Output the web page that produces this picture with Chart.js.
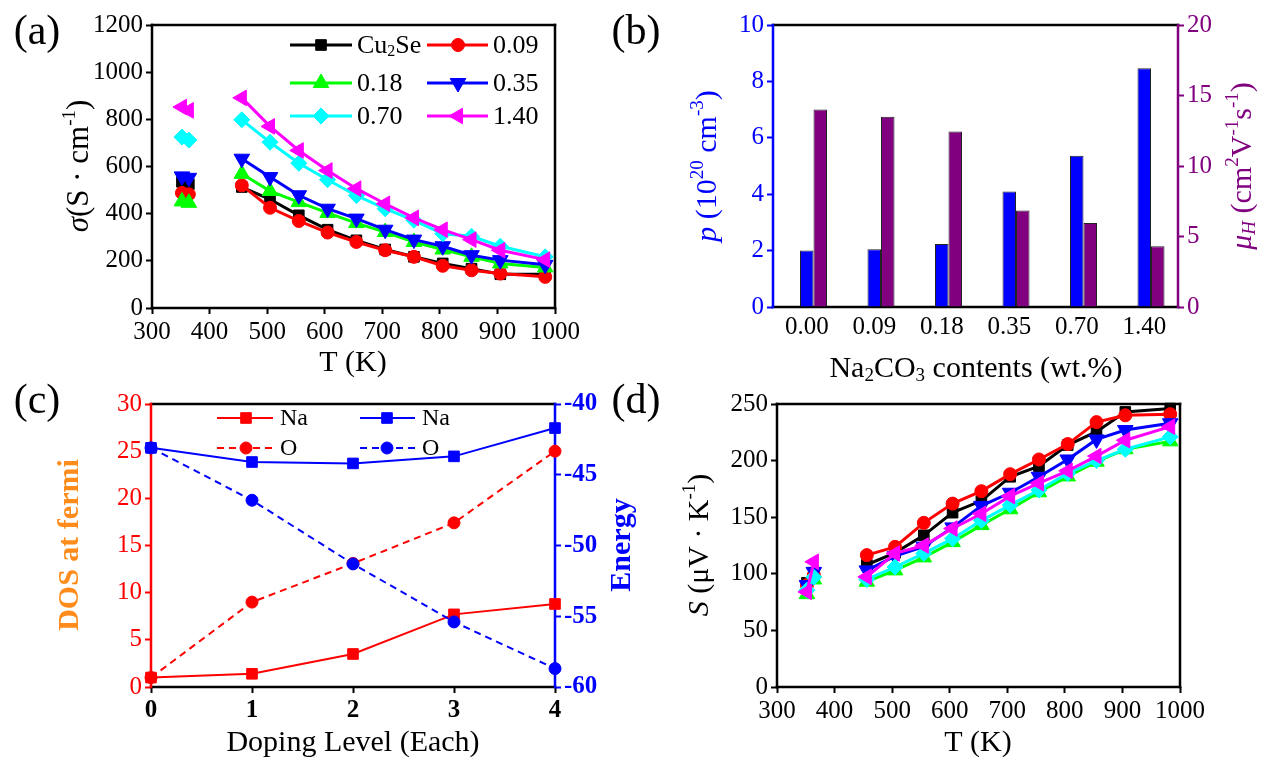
<!DOCTYPE html>
<html>
<head>
<meta charset="utf-8">
<script src="https://cdn.jsdelivr.net/npm/chart.js@4.4.1/dist/chart.umd.min.js"></script>
<style>
  body { margin: 0; background: #fff; }
  #lienzo { position: relative; width: 1270px; height: 764px; overflow: hidden; }
  canvas { position: absolute; }
</style>
</head>
<body>
<div id="lienzo">
  <canvas id="grafA" width="600" height="380" style="left:0;top:0"></canvas>
  <canvas id="grafB" width="670" height="392" style="left:600px;top:0"></canvas>
  <canvas id="grafC" width="650" height="384" style="left:0;top:380px"></canvas>
  <canvas id="grafD" width="670" height="384" style="left:600px;top:380px"></canvas>
</div>
<script>
// datos
const temperaturas = [352, 364, 456, 505, 555, 605, 655, 705, 755, 805, 855, 905, 983];
const muestras = ["Cu2Se", "0.09", "0.18", "0.35", "0.70", "1.40"];

const sigmaCu2Se = [535, 525, 513, 461, 393, 332, 287, 248, 217, 189, 167, 143, 143];
const sigma009 = [488, 482, 520, 425, 369, 320, 280, 245, 217, 179, 160, 146, 132];
const sigma018 = [452, 446, 569, 496, 449, 403, 360, 322, 280, 248, 217, 189, 172];
const sigma035 = [558, 552, 633, 555, 478, 421, 379, 332, 290, 262, 224, 203, 183];
const sigma070 = [725, 712, 798, 703, 614, 544, 477, 421, 372, 315, 304, 262, 217];
const sigma140 = [852, 838, 891, 770, 668, 583, 506, 442, 382, 332, 290, 245, 205];

const seebeckCu2Se = [92, 101, 108, 118.5, 134, 154, 164.5, 185.7, 195, 213.7, 225.5, 243, 246];
const seebeck009 = [90, 99, 116.5, 123.8, 145, 162, 173, 188, 201, 214.6, 234, 240, 241];
const seebeck018 = [82, 95, 93, 103, 114.5, 128, 143, 157, 172, 186, 199, 210, 217];
const seebeck035 = [90, 101.7, 103, 115.6, 124, 141, 160, 171.6, 185.7, 201, 218.7, 227, 233];
const seebeck070 = [85.5, 97, 95, 106, 118, 131, 147, 160.7, 174, 188.7, 200, 210, 221];
const seebeck140 = [84, 110.6, 97.3, 118, 125, 140, 153, 168.6, 180, 191, 204, 218, 230];

const contenidos = ["0.00", "0.09", "0.18", "0.35", "0.70", "1.40"];
const portadores = [2.0, 2.05, 2.23, 4.1, 5.36, 8.47];
const movilidad = [14.0, 13.5, 12.45, 6.85, 5.95, 4.3];

const niveles = [0, 1, 2, 3, 4];
const dosNa = [1.0, 1.4, 3.5, 7.7, 8.8];
const dosO = [1.0, 9.0, 13.1, 17.4, 25.0];
const energiaNa = [-43.1, -44.1, -44.2, -43.7, -41.7];
const energiaO = [-43.1, -46.8, -51.3, -55.4, -58.7];

const SERIF = "'Liberation Serif', 'Times New Roman', serif";
const TAM_TICK = 25;
Chart.defaults.font.family = SERIF;

const colores = ["#000000", "#ff0000", "#00ff00", "#0000ff", "#00ffff", "#ff00ff"];
const estilos = [
  { s: "rect", r: 7.5, rot: 0 },
  { s: "circle", r: 6.5, rot: 0 },
  { s: "triangle", r: 9, rot: 0 },
  { s: "triangle", r: 9, rot: 180 },
  { s: "rectRot", r: 8, rot: 0 },
  { s: "triangle", r: 9, rot: 270 }
];

function marcador(ctx, estilo, x, y, r, rot) {
  ctx.beginPath();
  if (estilo === "circle") {
    ctx.arc(x, y, r, 0, Math.PI * 2);
  } else if (estilo === "rect") {
    const s = r * Math.SQRT1_2;
    ctx.rect(x - s, y - s, 2 * s, 2 * s);
  } else if (estilo === "rectRot") {
    ctx.moveTo(x - r, y); ctx.lineTo(x, y - r); ctx.lineTo(x + r, y); ctx.lineTo(x, y + r); ctx.closePath();
  } else {
    let a = rot * Math.PI / 180;
    for (let k = 0; k < 3; k++) {
      const px = x + Math.sin(a) * r, py = y - Math.cos(a) * r;
      if (k) ctx.lineTo(px, py); else ctx.moveTo(px, py);
      a += 2 * Math.PI / 3;
    }
    ctx.closePath();
  }
  ctx.fill();
  ctx.stroke();
}

function fuente(p, tam) {
  const t = p.sup || p.sub ? Math.round(tam * 0.62) : tam;
  return `${p.i ? "italic " : ""}${p.b ? "bold " : ""}${t}px ${SERIF}`;
}

// texto con cursivas, super y subindices, centrado en (x, y)
function textoRico(ctx, partes, x, y, tam, color, rot = 0) {
  ctx.save();
  ctx.translate(x, y);
  ctx.rotate(rot);
  ctx.fillStyle = color;
  ctx.textBaseline = "middle";
  ctx.textAlign = "left";
  let ancho = 0;
  partes.forEach((p) => { ctx.font = fuente(p, tam); ancho += ctx.measureText(p.t).width; });
  let cx = -ancho / 2;
  partes.forEach((p) => {
    ctx.font = fuente(p, tam);
    const dy = p.sup ? -tam * 0.33 : p.sub ? tam * 0.22 : 0;
    ctx.fillText(p.t, cx, dy);
    cx += ctx.measureText(p.t).width;
  });
  ctx.restore();
}

const marco = {
  id: "marco",
  beforeDatasetsDraw(chart, args, opts) {
    const { ctx, chartArea: a } = chart;
    const c = opts.colores || {};
    ctx.save();
    ctx.lineWidth = 2.5;
    ctx.lineCap = "square";
    const lado = (color, x1, y1, x2, y2) => {
      ctx.strokeStyle = color;
      ctx.beginPath(); ctx.moveTo(x1, y1); ctx.lineTo(x2, y2); ctx.stroke();
    };
    lado(c.arriba || "#000", a.left, a.top, a.right, a.top);
    lado(c.abajo || "#000", a.left, a.bottom, a.right, a.bottom);
    lado(c.izq || "#000", a.left, a.top, a.left, a.bottom);
    lado(c.der || "#000", a.right, a.top, a.right, a.bottom);
    ctx.restore();
  }
};
Chart.register(marco);

function rotulos(id, dibujar) {
  return { id, afterDraw(chart) { dibujar(chart.ctx, chart); } };
}

function ejeLineal(min, max, paso, color, extra = {}, negrita = false) {
  return Object.assign({
    type: "linear",
    min, max,
    ticks: {
      stepSize: paso, color, autoSkip: false, maxRotation: 0, padding: 3,
      font: { family: SERIF, size: TAM_TICK, weight: negrita ? "bold" : "normal" },
      callback: (v) => String(v)
    },
    grid: { drawOnChartArea: false, drawTicks: true, tickLength: 6, tickWidth: 2, tickColor: color },
    border: { display: false },
    title: { display: false }
  }, extra);
}

function serieTermica(i, valores) {
  return {
    label: muestras[i],
    data: temperaturas.map((t, k) => ({ x: t, y: valores[k] })),
    borderColor: colores[i],
    backgroundColor: colores[i],
    borderWidth: 3,
    pointStyle: estilos[i].s,
    pointRotation: estilos[i].rot,
    pointRadius: estilos[i].r,
    pointBorderWidth: 1,
    pointHoverRadius: estilos[i].r,
    order: 5 - i,
    clip: false,
    segment: { borderColor: (c) => (c.p0DataIndex === 1 ? "rgba(0,0,0,0)" : undefined) }
  };
}

const opcionesBase = {
  responsive: false,
  devicePixelRatio: 1,
  animation: false,
  events: [],
  plugins: { legend: { display: false }, tooltip: { enabled: false } }
};

// (a) conductividad
const leyendaA = rotulos("leyendaA", (ctx) => {
  const filas = [45, 83, 116];
  const cols = [{ l1: 290, l2: 352, m: 321, t: 357 }, { l1: 427, l2: 488, m: 458, t: 493 }];
  muestras.forEach((nombre, i) => {
    const f = filas[Math.floor(i / 2)], c = cols[i % 2];
    ctx.save();
    ctx.strokeStyle = colores[i]; ctx.fillStyle = colores[i]; ctx.lineWidth = 3;
    ctx.beginPath(); ctx.moveTo(c.l1, f); ctx.lineTo(c.l2, f); ctx.stroke();
    ctx.lineWidth = 1;
    marcador(ctx, estilos[i].s, c.m, f, estilos[i].r, estilos[i].rot);
    ctx.restore();
    const partes = nombre === "Cu2Se" ? [{ t: "Cu" }, { t: "2", sub: true }, { t: "Se" }] : [{ t: nombre }];
    ctx.save();
    let ancho = 0;
    partes.forEach((p) => { ctx.font = fuente(p, 26); ancho += ctx.measureText(p.t).width; });
    ctx.restore();
    textoRico(ctx, partes, c.t + ancho / 2, f + 1, 26, "#000");
  });
  textoRico(ctx, [{ t: "(a)" }], 37, 33, 42, "#000");
  textoRico(ctx, [{ t: "σ", i: true }, { t: "(S · cm" }, { t: "-1", sup: true }, { t: ")" }], 80, 166, 31, "#000", -Math.PI / 2);
  textoRico(ctx, [{ t: "T (K)" }], 353, 363, 30, "#000");
});

new Chart(document.getElementById("grafA"), {
  type: "line",
  data: { datasets: [sigmaCu2Se, sigma009, sigma018, sigma035, sigma070, sigma140].map((v, i) => serieTermica(i, v)) },
  options: Object.assign({}, opcionesBase, {
    layout: { padding: { top: 25, right: 45, left: 0, bottom: 0 } },
    plugins: Object.assign({}, opcionesBase.plugins, { marco: { colores: {} } }),
    scales: {
      x: ejeLineal(300, 1000, 100, "#000", { afterFit: (s) => { s.height = 72; } }),
      y: ejeLineal(0, 1200, 200, "#000", { afterFit: (s) => { s.width = 152; } })
    }
  }),
  plugins: [leyendaA]
});

// (b) portadores y movilidad
const textosB = rotulos("textosB", (ctx) => {
  textoRico(ctx, [{ t: "(b)" }], 36, 33, 42, "#000");
  textoRico(ctx, [{ t: "p", i: true }, { t: " (10" }, { t: "20", sup: true }, { t: " cm" }, { t: "-3", sup: true }, { t: ")" }], 108, 166, 30, "#0000ff", -Math.PI / 2);
  textoRico(ctx, [{ t: "μ", i: true }, { t: "H", i: true, sub: true }, { t: " (cm" }, { t: "2", sup: true }, { t: "V" }, { t: "-1", sup: true }, { t: "s" }, { t: "-1", sup: true }, { t: ")" }], 643, 166, 30, "#800080", -Math.PI / 2);
  textoRico(ctx, [{ t: "Na" }, { t: "2", sub: true }, { t: "CO" }, { t: "3", sub: true }, { t: " contents (wt.%)" }], 376, 369, 30, "#000");
});

new Chart(document.getElementById("grafB"), {
  type: "bar",
  data: {
    labels: contenidos,
    datasets: [
      { label: "", data: contenidos.map(() => null), yAxisID: "y" },
      { label: "p", data: portadores, backgroundColor: "#0000ff", borderColor: "#222", borderWidth: 1, yAxisID: "y" },
      { label: "μH", data: movilidad, backgroundColor: "#800080", borderColor: "#222", borderWidth: 1, yAxisID: "y1" }
    ]
  },
  options: Object.assign({}, opcionesBase, {
    categoryPercentage: 0.6,
    barPercentage: 1.0,
    layout: { padding: { top: 25, right: 0, left: 0, bottom: 0 } },
    plugins: Object.assign({}, opcionesBase.plugins, { marco: { colores: { izq: "#0000ff", der: "#800080" } } }),
    scales: {
      x: {
        type: "category",
        ticks: { color: "#000", padding: 5, maxRotation: 0, font: { family: SERIF, size: TAM_TICK } },
        grid: { display: false, drawTicks: false },
        border: { display: false },
        afterFit: (s) => { s.height = 85; }
      },
      y: ejeLineal(0, 10, 2, "#0000ff", { position: "left", afterFit: (s) => { s.width = 173; } }),
      y1: ejeLineal(0, 20, 5, "#800080", { position: "right", afterFit: (s) => { s.width = 92; } })
    }
  }),
  plugins: [textosB]
});

// (c) DOS y energia
const textosC = rotulos("textosC", (ctx) => {
  const filas = [38, 68];
  const cols = [{ l1: 217, l2: 273, m: 246, t: 280, color: "#ff0000" }, { l1: 360, l2: 415, m: 387, t: 422, color: "#0000ff" }];
  filas.forEach((f, r) => {
    cols.forEach((c) => {
      ctx.save();
      ctx.strokeStyle = c.color; ctx.fillStyle = c.color; ctx.lineWidth = 2;
      if (r === 1) ctx.setLineDash([7, 5]);
      ctx.beginPath(); ctx.moveTo(c.l1, f); ctx.lineTo(c.l2, f); ctx.stroke();
      ctx.setLineDash([]); ctx.lineWidth = 1;
      marcador(ctx, r === 0 ? "rect" : "circle", c.m, f, r === 0 ? 7.5 : 6, 0);
      ctx.restore();
      ctx.save();
      ctx.font = `24px ${SERIF}`; ctx.fillStyle = "#000"; ctx.textBaseline = "middle";
      ctx.fillText(r === 0 ? "Na" : "O", c.t, f + 1);
      ctx.restore();
    });
  });
  textoRico(ctx, [{ t: "(c)" }], 37, 22, 42, "#000");
  textoRico(ctx, [{ t: "DOS at fermi", b: true }], 70, 165, 30, "#ff8c1a", -Math.PI / 2);
  textoRico(ctx, [{ t: "Energy", b: true }], 622, 165, 30, "#0000ff", -Math.PI / 2);
  textoRico(ctx, [{ t: "Doping Level (Each)" }], 353, 363, 30, "#000");
});

function serieDopaje(valores, color, estilo, discontinua, eje, orden) {
  return {
    data: niveles.map((n, k) => ({ x: n, y: valores[k] })),
    borderColor: color,
    backgroundColor: color,
    borderWidth: 2,
    borderDash: discontinua ? [7, 5] : [],
    pointStyle: estilo,
    pointRadius: estilo === "rect" ? 7.5 : 6,
    pointBorderWidth: 1,
    yAxisID: eje,
    order: orden,
    clip: false
  };
}

new Chart(document.getElementById("grafC"), {
  type: "line",
  data: {
    datasets: [
      serieDopaje(dosNa, "#ff0000", "rect", false, "y", 3),
      serieDopaje(dosO, "#ff0000", "circle", true, "y", 2),
      serieDopaje(energiaNa, "#0000ff", "rect", false, "y1", 1),
      serieDopaje(energiaO, "#0000ff", "circle", true, "y1", 0)
    ]
  },
  options: Object.assign({}, opcionesBase, {
    layout: { padding: { top: 24, right: 0, left: 0, bottom: 0 } },
    plugins: Object.assign({}, opcionesBase.plugins, { marco: { colores: { izq: "#ff0000", der: "#0000ff" } } }),
    scales: {
      x: ejeLineal(0, 4, 1, "#000", { afterFit: (s) => { s.height = 77; } }, true),
      y: ejeLineal(0, 30, 5, "#ff0000", { position: "left", afterFit: (s) => { s.width = 151; } }),
      y1: ejeLineal(-60, -40, 5, "#0000ff", { position: "right", afterFit: (s) => { s.width = 95; } }, true)
    }
  }),
  plugins: [textosC]
});

// (d) Seebeck
const textosD = rotulos("textosD", (ctx) => {
  textoRico(ctx, [{ t: "(d)" }], 36, 22, 42, "#000");
  textoRico(ctx, [{ t: "S", i: true }, { t: " (μV · K" }, { t: "-1", sup: true }, { t: ")" }], 100, 165, 30, "#000", -Math.PI / 2);
  textoRico(ctx, [{ t: "T (K)" }], 378, 363, 30, "#000");
});

new Chart(document.getElementById("grafD"), {
  type: "line",
  data: { datasets: [seebeckCu2Se, seebeck009, seebeck018, seebeck035, seebeck070, seebeck140].map((v, i) => serieTermica(i, v)) },
  options: Object.assign({}, opcionesBase, {
    layout: { padding: { top: 24, right: 90, left: 0, bottom: 0 } },
    plugins: Object.assign({}, opcionesBase.plugins, { marco: { colores: {} } }),
    scales: {
      x: ejeLineal(300, 1000, 100, "#000", { afterFit: (s) => { s.height = 77; } }),
      y: ejeLineal(0, 250, 50, "#000", { afterFit: (s) => { s.width = 177; } })
    }
  }),
  plugins: [textosD]
});
</script>
</body>
</html>
